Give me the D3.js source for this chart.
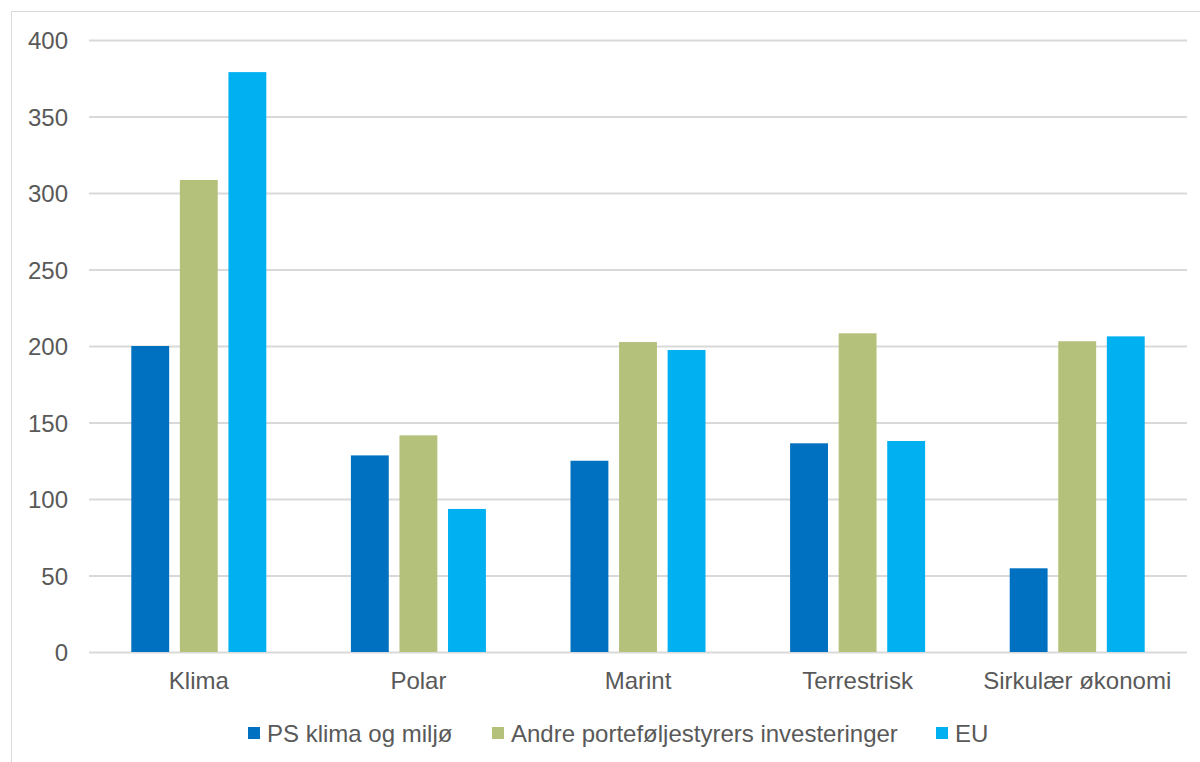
<!DOCTYPE html>
<html>
<head>
<meta charset="utf-8">
<script src="https://cdn.jsdelivr.net/npm/d3@7"></script>
<style>
  html, body { margin: 0; padding: 0; background: #fff; }
  svg { display: block; font-family: "Liberation Sans", Arial, sans-serif; }
</style>
</head>
<body>
<svg id="chart" width="1200" height="762"></svg>
<script>
const categories = ["Klima", "Polar", "Marint", "Terrestrisk", "Sirkulær økonomi"];
const seriesNames = ["PS klima og miljø", "Andre porteføljestyrers investeringer", "EU"];
const psValues = [200, 128.5, 125, 136.4, 54.7];
const andreValues = [308.5, 141.6, 202.6, 208.3, 203.1];
const euValues = [379, 93.5, 197.4, 137.9, 206.3];
const yTicks = [0, 50, 100, 150, 200, 250, 300, 350, 400];
const colors = ["#0070C0", "#B4C17B", "#00B0F0"];

const series = [psValues, andreValues, euValues];
const svg = d3.select("#chart");
const W = 1200, H = 762;
const FS = 24;

// outer frame
svg.append("rect").attr("x", 11.5).attr("y", 11.5).attr("width", W + 10).attr("height", H + 10)
  .attr("fill", "#fff").attr("stroke", "#d9d9d9").attr("stroke-width", 1);

const plot = { left: 89, right: 1187, top: 40, bottom: 652 };

const y = d3.scaleLinear().domain([0, 400]).range([plot.bottom, plot.top]);
const x0 = d3.scaleBand().domain(categories).range([plot.left, plot.right]).padding(0);
const groupW = 135;
const x1 = d3.scaleBand().domain(d3.range(3))
  .range([(x0.bandwidth() - groupW) / 2, (x0.bandwidth() + groupW) / 2])
  .paddingInner(0.22).paddingOuter(0);

// gridlines
const yAxis = d3.axisLeft(y).tickValues(yTicks).tickSize(-(plot.right - plot.left)).tickPadding(21);
const gy = svg.append("g").attr("transform", `translate(${plot.left},0)`).call(yAxis);
gy.select(".domain").remove();
gy.selectAll(".tick line").attr("stroke", "#d9d9d9").attr("stroke-width", 2);
gy.selectAll(".tick text").attr("fill", "#595959").attr("font-size", FS)
  .attr("font-family", "Liberation Sans, Arial, sans-serif").attr("dy", "0.36em");

// bars
const groups = svg.append("g").selectAll("g").data(categories).join("g")
  .attr("transform", d => `translate(${x0(d)},0)`);
groups.selectAll("rect").data((d, i) => series.map((s, k) => ({ k, v: s[i] }))).join("rect")
  .attr("x", d => x1(d.k))
  .attr("width", x1.bandwidth())
  .attr("y", d => y(d.v))
  .attr("height", d => y(0) - y(d.v))
  .attr("fill", d => colors[d.k]);

// x axis labels
const xAxis = d3.axisBottom(x0).tickSize(0).tickPadding(20);
const gx = svg.append("g").attr("transform", `translate(0,${plot.bottom})`).call(xAxis);
gx.select(".domain").remove();
gx.selectAll(".tick text").attr("fill", "#595959").attr("font-size", FS)
  .attr("font-family", "Liberation Sans, Arial, sans-serif");

// legend
const legendItems = [
  { name: seriesNames[0], sx: 248, tx: 267 },
  { name: seriesNames[1], sx: 492, tx: 511 },
  { name: seriesNames[2], sx: 936, tx: 955 }
];
const lg = svg.append("g");
legendItems.forEach((d, i) => {
  lg.append("rect").attr("x", d.sx).attr("y", 727).attr("width", 12).attr("height", 12).attr("fill", colors[i]);
  lg.append("text").attr("x", d.tx).attr("y", 742).attr("fill", "#595959").attr("font-size", FS)
    .text(d.name);
});
</script>
</body>
</html>
